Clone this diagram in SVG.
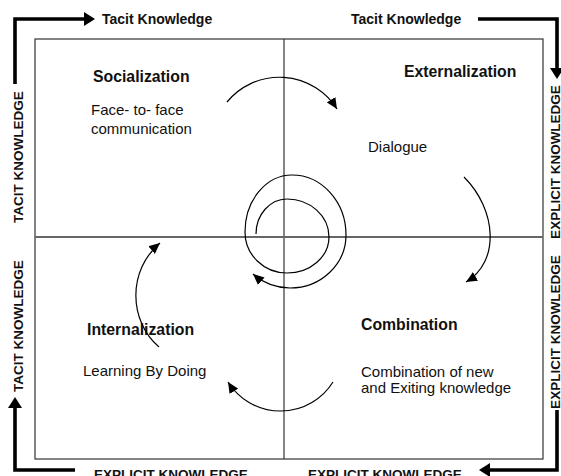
<svg xmlns="http://www.w3.org/2000/svg" width="561" height="476" viewBox="0 0 561 476">
<style>
.t{font-family:"Liberation Sans",Arial,sans-serif;fill:#111}
.b{font-weight:bold}
.h{font-size:15.8px;font-weight:bold}
.r{font-size:15px}
.lab{font-size:13.5px;font-weight:bold}
.thin{fill:none;stroke:#000;stroke-width:1.2}
.thick{fill:none;stroke:#000;stroke-width:3.6;stroke-linejoin:miter}
</style>
<defs>
<marker id="ah" markerUnits="userSpaceOnUse" markerWidth="12" markerHeight="10" refX="11" refY="5" orient="auto"><path d="M0,0 L11,5 L0,10 z" fill="#000"/></marker>
<marker id="ahb" markerUnits="userSpaceOnUse" markerWidth="12" markerHeight="14" refX="2" refY="7" orient="auto"><path d="M0,0 L11,7 L0,14 z" fill="#000"/></marker>
</defs>
<g id="frame">
<rect x="35" y="39" width="508" height="420" fill="none" stroke="#333" stroke-width="1.2"/>
<line x1="284" y1="39" x2="284" y2="459" stroke="#333" stroke-width="1.2"/>
<line x1="35" y1="237" x2="543" y2="237" stroke="#666" stroke-width="2"/>
</g>
<g id="socialization">
<text class="t h" x="93" y="82">Socialization</text>
<text class="t r" x="91" y="115">Face- to- face</text>
<text class="t r" x="91" y="134">communication</text>
</g>
<g id="externalization">
<text class="t h" x="404" y="77">Externalization</text>
<text class="t r" x="368" y="152">Dialogue</text>
</g>
<g id="internalization">
<text class="t h" x="87" y="335">Internalization</text>
<text class="t r" x="83" y="376">Learning By Doing</text>
</g>
<g id="combination">
<text class="t h" x="361" y="330">Combination</text>
<text class="t r" x="361" y="377">Combination of new</text>
<text class="t r" x="361" y="393">and Exiting knowledge</text>
</g>
<g id="labels">
<text class="t b" font-size="14" x="102" y="24">Tacit Knowledge</text>
<text class="t b" font-size="14" x="351" y="24">Tacit Knowledge</text>
<text class="t lab" text-anchor="middle" transform="translate(23,157) rotate(-90)">TACIT KNOWLEDGE</text>
<text class="t lab" text-anchor="middle" transform="translate(23,326) rotate(-90)">TACIT KNOWLEDGE</text>
<text class="t lab" text-anchor="middle" transform="translate(560,162) rotate(-90)">EXPLICIT KNOWLEDGE</text>
<text class="t lab" text-anchor="middle" transform="translate(560,332) rotate(-90)">EXPLICIT KNOWLEDGE</text>
<text class="t lab" text-anchor="middle" x="171" y="479">EXPLICIT KNOWLEDGE</text>
<text class="t lab" text-anchor="middle" x="385" y="479">EXPLICIT KNOWLEDGE</text>
</g>
<g id="connectors">
<path class="thick" d="M15 84 V19 H86" marker-end="url(#ahb)"/>
<path class="thick" d="M478 19 H557 V70" marker-end="url(#ahb)"/>
<path class="thick" d="M557 410 V470 H488" marker-end="url(#ahb)"/>
<path class="thick" d="M75 470 H15 V406" marker-end="url(#ahb)"/>
<path class="thin" d="M227 102 A68 68 0 0 1 337 109" marker-end="url(#ah)"/>
<path class="thin" d="M464 177 C497 210 500 262 466 282" marker-end="url(#ah)"/>
<path class="thin" d="M333 382 A62 62 0 0 1 228 382" marker-end="url(#ah)"/>
<path class="thin" d="M159 347 C128 320 128 270 160 243" marker-end="url(#ah)"/>
<path class="thin" d="M256 234 A31 35 0 0 1 287 199 A42 38 0 0 1 329 237 A42 36 0 0 1 287 273 A42 41 0 0 1 245 232 A47 57 0 0 1 292 175 A54 60 0 0 1 346 235 A56 53 0 0 1 290 288 A56 53 0 0 1 253 274" marker-end="url(#ah)"/>
</g>
</svg>
